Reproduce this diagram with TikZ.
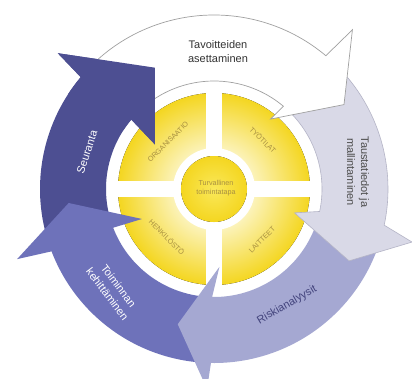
\documentclass[tikz,border=0pt]{standalone}
\usepackage{fontspec}
\setmainfont{Liberation Sans}
\definecolor{seur}{HTML}{4D4F92}
\definecolor{toim}{HTML}{6E72BA}
\definecolor{risk}{HTML}{A5A8D2}
\definecolor{taus}{HTML}{D9D9E7}
\definecolor{tausline}{HTML}{B4B4C6}
\definecolor{whline}{HTML}{A0A0A0}
\definecolor{ylight}{HTML}{FCF4C0}
\definecolor{ydeep}{HTML}{F4D620}
\definecolor{cmid}{HTML}{FAE85A}
\definecolor{ytext}{HTML}{A89040}
\pgfdeclareradialshading{yshade}{\pgfpointorigin}{color(0bp)=(ylight); color(10bp)=(ylight); color(25bp)=(ydeep); color(50bp)=(ydeep)}
\pgfdeclareradialshading{cshade}{\pgfpointorigin}{color(0bp)=(cmid); color(25bp)=(ydeep); color(50bp)=(ydeep)}
\begin{document}
\begin{tikzpicture}[x=1pt,y=1pt,
  bigtxt/.style={font=\fontsize{11}{14}\selectfont, align=center, inner sep=0pt},
  seglbl/.style={font=\fontsize{7.2}{8}\selectfont, text=ytext, inner sep=0pt}]
\useasboundingbox (-214,-189) rectangle (198,189);
\fill[white] (-214,-189) rectangle (198,189);

% yellow core: four segments around a central disc
\fill[shading=yshade] (0,0) circle (96);
\fill[white] (-7.5,-97) rectangle (7.5,97);
\fill[white] (-97,-8) rectangle (97,8);
\fill[white] (0,0) circle (41);
\fill[shading=cshade] (0,0) circle (33);

% Seuranta (body; head is repainted last)
\fill[seur] (195:174) arc[start angle=195,end angle=140,radius=174]
  -- (139:207) -- (116:135) -- (143:74) -- (140:108)
  arc[start angle=140,end angle=195,radius=108] -- cycle;
% Toiminnan kehittaminen
\fill[toim] (265:174) arc[start angle=265,end angle=201,radius=174]
  -- (199.6:209) -- (185.5:146) -- (202.6:78) -- (201:108)
  arc[start angle=201,end angle=265,radius=108] -- cycle;
% Riskianalyysit
\fill[risk] (-20:174) arc[start angle=-20,end angle=-91,radius=174]
  -- (-92:200) -- (-105:140) -- (-86:78) -- (-91:108)
  arc[start angle=-91,end angle=-20,radius=108] -- cycle;
% Taustatiedot ja mallintaminen
\filldraw[fill=taus,draw=tausline,line width=0.6pt] (45:174) arc[start angle=45,end angle=-12,radius=174]
  -- (-15:205) -- (-28:153) -- (-16.5:84) -- (-12:108)
  arc[start angle=-12,end angle=45,radius=108] -- cycle;
% Tavoitteiden asettaminen
\filldraw[fill=white,draw=whline,line width=0.7pt] (136:174) arc[start angle=136,end angle=50,radius=174]
  -- (49:211) -- (33:155) -- (51:90) -- (50:108)
  arc[start angle=50,end angle=136,radius=108] -- cycle;
% Seuranta head on top of the white tail
\fill[seur] (147:174) arc[start angle=147,end angle=140,radius=174]
  -- (139:207) -- (116:135) -- (143:74) -- (140:108)
  arc[start angle=140,end angle=147,radius=108] -- cycle;

% arrow labels
\node[bigtxt, text=black!80] (tav) at (4,137) {Tavoitteiden\\asettaminen};
\node[bigtxt, text=black!70, rotate=-90] (tau) at (144,17) {Taustatiedot ja\\mallintaminen};
\node[bigtxt, text=seur!85!black, rotate=30] (ris) at (73,-116) {Riskianalyysit};
\node[bigtxt, text=white, rotate=-53] (toi) at (-101,-101) {Toiminnan\\kehittäminen};
\node[bigtxt, text=white, rotate=72] (seu) at (-127,37) {Seuranta};

% segment labels
\node[seglbl, rotate=45] (org) at (-46,47) {ORGANISAATIO};
\node[seglbl, rotate=-45] (tyo) at (49,49) {TYÖTILAT};
\node[seglbl, rotate=-45] (hen) at (-47,-48) {HENKILÖSTÖ};
\node[seglbl, rotate=45] (lai) at (48,-51) {LAITTEET};
\node[seglbl, align=center, font=\fontsize{7.2}{8.5}\selectfont] (mid) at (2,1) {Turvallinen\\toimintatapa};
\end{tikzpicture}
\end{document}
